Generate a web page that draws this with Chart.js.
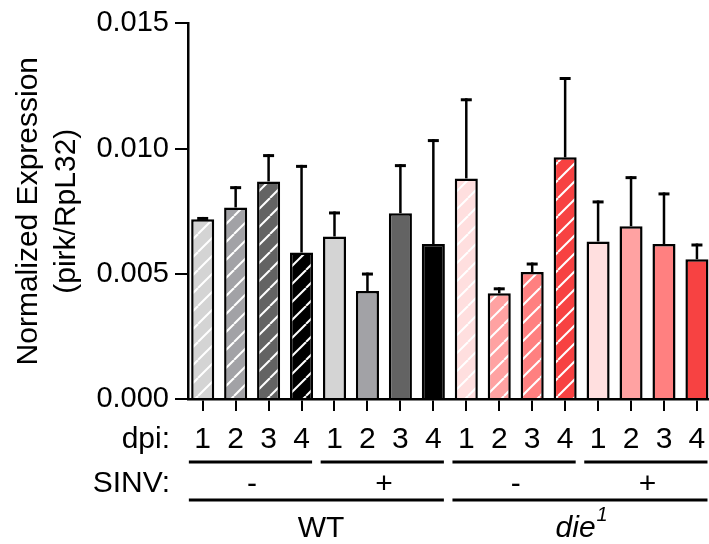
<!DOCTYPE html>
<html>
<head>
<meta charset="utf-8">
<script src="https://cdn.jsdelivr.net/npm/chart.js@4"></script>
<style>
html,body{margin:0;padding:0;background:#fff;overflow:hidden;}
#wrap{width:709px;height:544px;position:relative;}
</style>
</head>
<body>
<div id="wrap"><canvas id="c" width="709" height="544"></canvas></div>
<script>
// ---- data ----
const dpiLabels = ['1','2','3','4','1','2','3','4','1','2','3','4','1','2','3','4'];
const means  = [0.00718,0.00765,0.00869,0.00585, 0.00649,0.00431,0.00742,0.00619,
                0.00881,0.00422,0.00507,0.00965, 0.00629,0.00690,0.00619,0.00558];
const errors = [0.00009,0.00085,0.00109,0.00350, 0.00100,0.00074,0.00196,0.00419,
                0.00320,0.00024,0.00038,0.00321, 0.00164,0.00200,0.00206,0.00063];
const sinvLabels = ['-','+','-','+'];
const genotypeLabels = ['WT','die'];
const yTicks = [0, 0.005, 0.010, 0.015];

// ---- styles ----
const FONT = "'Liberation Sans', Arial, Helvetica, sans-serif";
const baseColors = ['#d4d4d4','#a2a2a6','#636363','#000000','#d4d4d4','#a2a2a6','#636363','#000000',
                    '#ffdfdf','#ffa2a2','#ff8080','#f74242','#ffdfdf','#ffa2a2','#ff8080','#f74242'];
const hatched = [1,1,1,1,0,0,0,0,1,1,1,1,0,0,0,0];

function makeHatch(color){
  const s = 18;
  const c = document.createElement('canvas');
  c.width = s; c.height = s;
  const g = c.getContext('2d');
  g.fillStyle = color; g.fillRect(0,0,s,s);
  g.strokeStyle = '#ffffff'; g.lineWidth = 2;
  for (let k=-1;k<=1;k++){
    g.beginPath(); g.moveTo(k*s, s); g.lineTo(k*s+s, 0); g.stroke();
  }
  return g.createPattern(c,'repeat');
}
const fills = baseColors.map((col,i)=> hatched[i] ? makeHatch(col) : col);

const errorBarPlugin = {
  id:'errorBars',
  afterDatasetsDraw(chart){
    const ctx = chart.ctx, ys = chart.scales.y;
    const meta = chart.getDatasetMeta(0);
    ctx.save();
    ctx.strokeStyle = '#000'; ctx.lineCap = 'butt';
    meta.data.forEach((el,i)=>{
      const top = ys.getPixelForValue(means[i]+errors[i]);
      ctx.lineWidth = 2.5;
      ctx.beginPath(); ctx.moveTo(el.x, el.y); ctx.lineTo(el.x, top); ctx.stroke();
      ctx.lineWidth = 3;
      ctx.beginPath(); ctx.moveTo(el.x-5.5, top+1.5); ctx.lineTo(el.x+5.5, top+1.5); ctx.stroke();
    });
    ctx.restore();
  }
};

const groupLabelPlugin = {
  id:'groupLabels',
  afterDraw(chart){
    const ctx = chart.ctx, xs = chart.scales.x;
    const px = v => xs.getPixelForValue(v);
    ctx.save();
    ctx.fillStyle = '#000'; ctx.strokeStyle = '#000';
    ctx.font = '30px ' + FONT;
    ctx.textBaseline = 'middle';
    ctx.textAlign = 'right';
    ctx.fillText('dpi:', 170, 440);
    ctx.fillText('SINV:', 170, 484);
    ctx.lineWidth = 3;
    // SINV group lines
    for (let g=0; g<4; g++){
      const a = g*4+1, b = g*4+4;
      ctx.beginPath(); ctx.moveTo(px(a-0.42), 462); ctx.lineTo(px(b+0.32), 462); ctx.stroke();
      ctx.textAlign = 'center';
      ctx.fillText(sinvLabels[g], (px(a)+px(b))/2, 485);
    }
    // genotype lines
    for (let g=0; g<2; g++){
      const a = g*8+1, b = g*8+8;
      ctx.beginPath(); ctx.moveTo(px(a-0.42), 500); ctx.lineTo(px(b+0.32), 500); ctx.stroke();
    }
    const c1 = (px(1)+px(8))/2 + 3, c2 = (px(9)+px(16))/2;
    ctx.textAlign = 'center';
    ctx.fillText(genotypeLabels[0], c1, 529);
    // die with italic superscript 1
    ctx.font = 'italic 30px ' + FONT;
    const w1 = ctx.measureText(genotypeLabels[1]).width;
    ctx.font = 'italic 20px ' + FONT;
    const w2 = ctx.measureText('1').width;
    const start = c2 - (w1+w2+1)/2;
    ctx.textAlign = 'left';
    ctx.font = 'italic 30px ' + FONT;
    ctx.fillText(genotypeLabels[1], start, 529);
    ctx.font = 'italic 20px ' + FONT;
    ctx.fillText('1', start + w1 + 1, 515);
    ctx.restore();
  }
};

new Chart(document.getElementById('c'), {
  type:'bar',
  data:{
    datasets:[{
      data: means.map((v,i)=>({x:i+1, y:v})),
      backgroundColor: fills,
      borderColor:'#000',
      borderWidth:2.5,
      borderSkipped:'bottom',
      barPercentage:0.70,
      categoryPercentage:1.0
    }]
  },
  options:{
    responsive:false,
    animation:false,
    devicePixelRatio:1,
    layout:{padding:{top:22,left:0,right:0,bottom:0}},
    plugins:{legend:{display:false}, tooltip:{enabled:false}},
    scales:{
      x:{
        type:'linear',
        offset:false,
        min:0.554, max:16.366,
        grid:{display:true, drawOnChartArea:false, offset:false, tickLength:12, color:'#000', lineWidth:2},
        border:{display:true, color:'#000', width:2.5},
        ticks:{
          color:'#000', padding:3, autoSkip:false, maxRotation:0,
          font:{family:FONT, size:30, lineHeight:1.73},
          callback:(v)=> dpiLabels[Math.round(v)-1] ?? ''
        },
        afterBuildTicks:(s)=>{ s.ticks = dpiLabels.map((_,i)=>({value:i+1})); },
        afterFit:(s)=>{ s.height = 145; }
      },
      y:{
        min:0, max:0.015,
        afterBuildTicks:(s)=>{ s.ticks = yTicks.map(v=>({value:v})); },
        grid:{display:true, drawOnChartArea:false, tickLength:13, color:'#000', lineWidth:2},
        border:{display:true, color:'#000', width:2.5},
        ticks:{color:'#000', padding:6, font:{family:FONT, size:29}, callback:(v)=> v.toFixed(3)},
        title:{display:true, text:['Normalized Expression','(pirk/RpL32)'], color:'#000',
               font:{family:FONT, size:30, lineHeight:1.27}, padding:{top:10,bottom:0}},
        afterFit:(s)=>{ s.width = 188; }
      }
    }
  },
  plugins:[errorBarPlugin, groupLabelPlugin]
});
</script>
</body>
</html>
